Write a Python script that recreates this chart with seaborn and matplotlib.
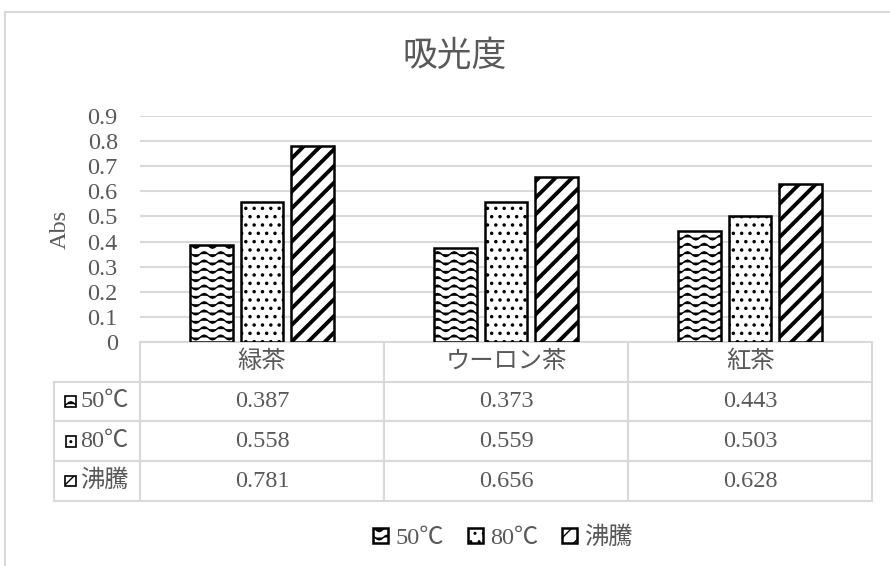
import warnings
import numpy as np
import pandas as pd
import seaborn as sns
import matplotlib.pyplot as plt
import matplotlib.hatch as mhatch
from matplotlib.path import Path
from matplotlib.patches import Rectangle
from matplotlib.table import Table
from matplotlib.offsetbox import DrawingArea, TextArea, HPacker, AnnotationBbox

warnings.filterwarnings('ignore')

# データ
categories = ['緑茶', 'ウーロン茶', '紅茶']
series = ['50℃', '80℃', '沸騰']
abs_50 = [0.387, 0.373, 0.443]
abs_80 = [0.558, 0.559, 0.503]
abs_boil = [0.781, 0.656, 0.628]
y_ticks = [0, 0.1, 0.2, 0.3, 0.4, 0.5, 0.6, 0.7, 0.8, 0.9]

hatches = ['~~', '..', '//']
FONT = ['Liberation Serif', 'Noto Sans CJK JP']
GREY = '#595959'
LINE = '#d9d9d9'
FS = 17.5


class WaveHatch(mhatch.HatchPatternBase):
    """波線ハッチ ('~')"""
    n_pts = 49

    def __init__(self, hatch, density):
        self.num_lines = int(hatch.count('~') * density)
        self.num_vertices = self.num_lines * self.n_pts

    def set_vertices_and_codes(self, vertices, codes):
        xs = np.linspace(0, 1, self.n_pts)
        step = 1.0 / self.num_lines
        for i in range(self.num_lines):
            sl = slice(i * self.n_pts, (i + 1) * self.n_pts)
            vertices[sl, 0] = xs
            vertices[sl, 1] = (i + 0.5) * step + 0.024 * np.sin(2 * np.pi * 6 * xs)
            codes[sl] = Path.LINETO
            codes[i * self.n_pts] = Path.MOVETO


mhatch._hatch_types.append(WaveHatch)

sns.set_theme(style='white')
plt.rcParams['font.family'] = FONT

df = pd.DataFrame({
    '茶': categories * 3,
    '温度': np.repeat(series, len(categories)),
    'Abs': abs_50 + abs_80 + abs_boil,
})

fig = plt.figure(figsize=(8.9, 5.66), dpi=100)
ax = fig.add_axes([140 / 890, 1 - 342 / 566, 732 / 890, 226 / 566])

sns.barplot(data=df, x='茶', y='Abs', hue='温度', order=categories, hue_order=series,
            palette=['white'] * 3, edgecolor='black', linewidth=1.8,
            width=0.62, gap=0.15, errorbar=None, legend=False, ax=ax)

hatch_lw = [1.0, 1.3, 2.8]
for cont, h, hlw in zip(ax.containers, hatches, hatch_lw):
    for bar in cont:
        bar.set_hatch(h)
        if hasattr(bar, 'set_hatch_linewidth'):
            bar.set_hatch_linewidth(hlw)

ax.set_ylim(0, 0.9)
ax.set_yticks(y_ticks)
ax.set_yticklabels([f'{v:g}' for v in y_ticks])
ax.tick_params(axis='y', length=0, pad=16, labelsize=FS, labelcolor=GREY)
ax.tick_params(axis='x', length=0, labelbottom=False)
ax.set_xlabel('')
ax.set_ylabel('Abs', fontsize=FS, color=GREY)
ax.yaxis.set_label_coords(-0.095, 0.5)
ax.yaxis.grid(True, color=LINE, linewidth=1.5)
ax.set_axisbelow(True)
for s in ax.spines.values():
    s.set_visible(False)

# データテーブル
values = [abs_50, abs_80, abs_boil]
label_w = 86 / 732
tbl = Table(ax, bbox=[0, -0.7035, 1, 0.7035])
for j, cat in enumerate(categories):
    tbl.add_cell(0, j, 1 / 3, 0.25, text=cat, loc='center')
for i, vals in enumerate(values):
    tbl.add_cell(i + 1, -1, label_w, 0.25, text='', loc='center')
    for j, v in enumerate(vals):
        tbl.add_cell(i + 1, j, 1 / 3, 0.25, text=f'{v:.3f}', loc='center')
tbl.auto_set_font_size(False)
tbl.set_fontsize(FS)
for cell in tbl.get_celld().values():
    cell.set_edgecolor(LINE)
    cell.set_linewidth(1.5)
    cell.get_text().set_color(GREY)
ax.add_table(tbl)

# 行ラベル（凡例マーカー付き）
row_h = 0.7035 / 4
for i, (name, h) in enumerate(zip(series, hatches)):
    da = DrawingArea(7.5, 7.5)
    da.add_artist(Rectangle((0, 0), 7.5, 7.5, facecolor='white', edgecolor='black',
                            linewidth=1.2, hatch=h))
    ta = TextArea(name, textprops=dict(fontsize=FS, color=GREY))
    box = HPacker(children=[da, ta], sep=3, align='center', pad=0)
    ab = AnnotationBbox(box, (-label_w / 2, -row_h * (i + 1.5)), xycoords=ax.transAxes,
                        frameon=False, box_alignment=(0.5, 0.5), pad=0)
    fig.add_artist(ab)

# タイトル・凡例・枠
fig.text(455 / 890, 1 - 57 / 566, '吸光度', ha='center', va='center', fontsize=25, color=GREY)

fig.legend(handles=[c.patches[0] for c in ax.containers], labels=series,
           loc='center', bbox_to_anchor=(503 / 890, 1 - 538 / 566), ncol=3,
           frameon=False, fontsize=FS, labelcolor=GREY,
           handlelength=0.6, handleheight=0.6, handletextpad=0.3, columnspacing=1.0)

fig.add_artist(Rectangle((5 / 890, -0.1), 1.2, 1 - 12 / 566 + 0.1, transform=fig.transFigure,
                         fill=False, edgecolor=LINE, linewidth=1.5))

fig.savefig('out.png', dpi=100)
